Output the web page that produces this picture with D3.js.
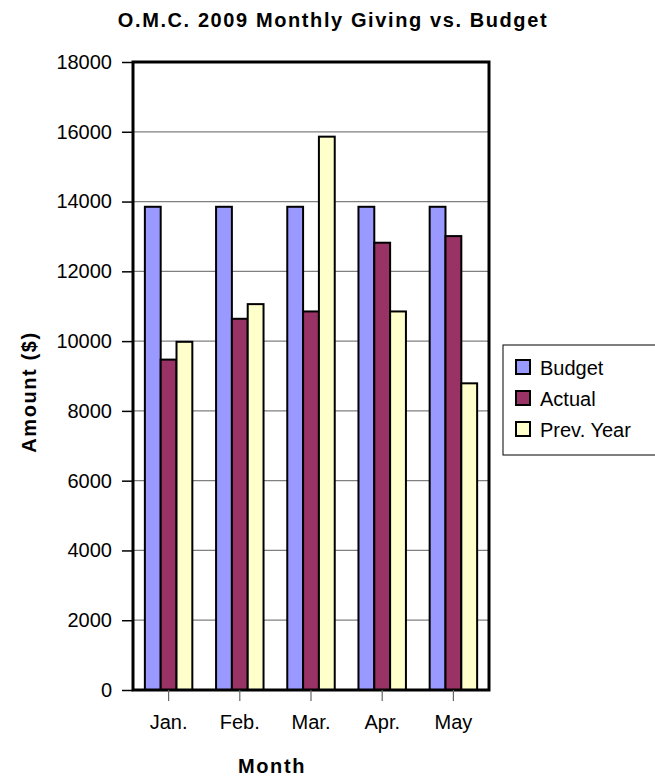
<!DOCTYPE html>
<html>
<head>
<meta charset="utf-8">
<script src="https://cdn.jsdelivr.net/npm/d3@7"></script>
<style>
  html, body { margin: 0; padding: 0; background: #fff; }
  svg { display: block; font-family: "Liberation Sans", Arial, sans-serif; }
</style>
</head>
<body>
<svg id="chart" width="655" height="778"></svg>
<script>
const months = ["Jan.", "Feb.", "Mar.", "Apr.", "May"];
const seriesNames = ["Budget", "Actual", "Prev. Year"];
const budget = [13850, 13850, 13850, 13850, 13850];
const actual = [9470, 10640, 10850, 12820, 13010];
const prevYear = [9980, 11060, 15860, 10850, 8790];
const yTicks = [0, 2000, 4000, 6000, 8000, 10000, 12000, 14000, 16000, 18000];
const colors = ["#9999FF", "#993366", "#FFFFCC"];

const seriesValues = [budget, actual, prevYear];
const svg = d3.select("#chart");

const plot = { left: 133, right: 489, top: 62, bottom: 690 };

const x0 = d3.scaleBand().domain(months).range([plot.left, plot.right]).paddingInner(0).paddingOuter(0);
const x1 = d3.scaleBand().domain(seriesNames).range([0, x0.bandwidth()]).paddingInner(0).paddingOuter(0.75);
const y = d3.scaleLinear().domain([0, 18000]).range([plot.bottom, plot.top]);
const color = d3.scaleOrdinal().domain(seriesNames).range(colors);

// gridlines
svg.append("g")
  .selectAll("line")
  .data(yTicks.filter(t => t > 0 && t < 18000))
  .join("line")
  .attr("x1", plot.left).attr("x2", plot.right)
  .attr("y1", d => y(d)).attr("y2", d => y(d))
  .attr("stroke", "#808080").attr("stroke-width", 1.2);

// bars
const rows = months.map((m, i) => ({ month: m, values: seriesNames.map((s, j) => ({ series: s, value: seriesValues[j][i] })) }));
svg.append("g")
  .selectAll("g")
  .data(rows)
  .join("g")
  .attr("transform", d => `translate(${x0(d.month)},0)`)
  .selectAll("rect")
  .data(d => d.values)
  .join("rect")
  .attr("x", d => x1(d.series))
  .attr("y", d => y(d.value))
  .attr("width", x1.bandwidth())
  .attr("height", d => y(0) - y(d.value))
  .attr("fill", d => color(d.series))
  .attr("stroke", "#000").attr("stroke-width", 2);

// plot border
svg.append("rect")
  .attr("x", plot.left).attr("y", plot.top)
  .attr("width", plot.right - plot.left).attr("height", plot.bottom - plot.top)
  .attr("fill", "none").attr("stroke", "#000").attr("stroke-width", 3);

// y axis
const yAxis = d3.axisLeft(y).tickValues(yTicks).tickSize(11).tickPadding(10).tickFormat(d3.format("d"));
const gy = svg.append("g").attr("transform", `translate(${plot.left},0)`).call(yAxis);
gy.select(".domain").remove();
gy.selectAll(".tick line").attr("stroke", "#000").attr("stroke-width", 1.5);
gy.selectAll(".tick text").attr("font-size", 20).attr("fill", "#000")
  .attr("font-family", "'Liberation Sans', Arial, sans-serif");

// x axis: ticks at category centres
const xAxis = d3.axisBottom(x0).tickSize(11).tickPadding(14);
const gx = svg.append("g").attr("transform", `translate(0,${plot.bottom})`).call(xAxis);
gx.select(".domain").remove();
gx.selectAll(".tick line").attr("stroke", "#666").attr("stroke-width", 1.2);
gx.selectAll(".tick text").attr("font-size", 20).attr("fill", "#000")
  .attr("font-family", "'Liberation Sans', Arial, sans-serif");

// title
svg.append("text")
  .attr("x", 333).attr("y", 27)
  .attr("text-anchor", "middle")
  .attr("font-size", 20).attr("font-weight", "bold")
  .attr("letter-spacing", 1.6)
  .text("O.M.C. 2009 Monthly Giving vs. Budget");

// y title
svg.append("text")
  .attr("transform", "translate(36,392) rotate(-90)")
  .attr("text-anchor", "middle")
  .attr("font-size", 20).attr("font-weight", "bold")
  .attr("letter-spacing", 1.6)
  .text("Amount ($)");

// x title
svg.append("text")
  .attr("x", 272).attr("y", 773)
  .attr("text-anchor", "middle")
  .attr("font-size", 20).attr("font-weight", "bold")
  .attr("letter-spacing", 1.6)
  .text("Month");

// legend
const legend = svg.append("g");
legend.append("rect")
  .attr("x", 503).attr("y", 345).attr("width", 160).attr("height", 110)
  .attr("fill", "#fff").attr("stroke", "#000").attr("stroke-width", 1);
const items = legend.selectAll("g.item")
  .data(seriesNames)
  .join("g").attr("class", "item")
  .attr("transform", (d, i) => `translate(0,${375 + i * 31})`);
items.append("rect")
  .attr("x", 516).attr("y", -15).attr("width", 14).attr("height", 14)
  .attr("fill", d => color(d)).attr("stroke", "#000").attr("stroke-width", 2);
items.append("text")
  .attr("x", 540).attr("y", 0)
  .attr("font-size", 20)
  .text(d => d);
</script>
</body>
</html>
